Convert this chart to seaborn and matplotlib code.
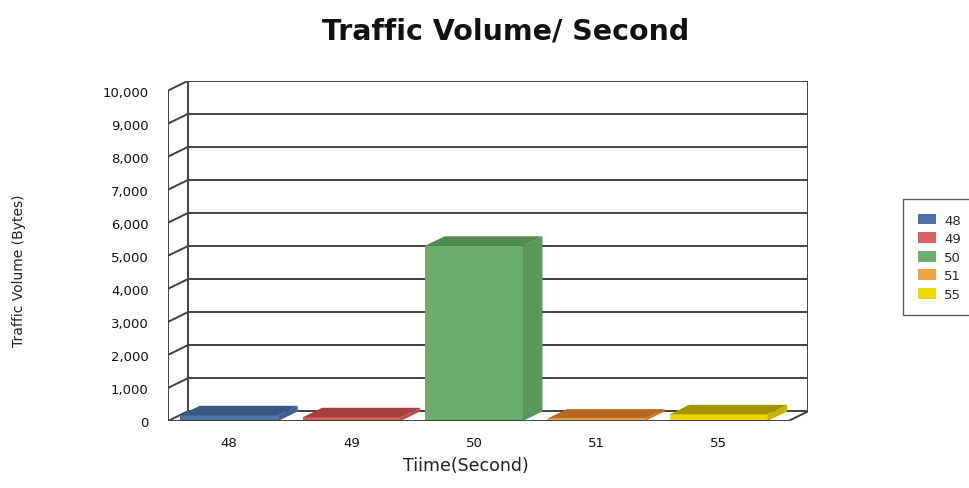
import matplotlib
matplotlib.use("Agg")
import matplotlib.pyplot as plt
import seaborn as sns
import pandas as pd
from matplotlib.patches import Polygon

# ---- data ----
categories = ["48", "49", "50", "51", "55"]
traffic_bytes = [170, 110, 5300, 70, 200]
ytick_values = [0, 1000, 2000, 3000, 4000, 5000, 6000, 7000, 8000, 9000, 10000]
ytick_labels = ["0", "1,000", "2,000", "3,000", "4,000", "5,000",
                "6,000", "7,000", "8,000", "9,000", "10,000"]

front_colors = ["#4f72a8", "#d9605e", "#6cae6c", "#f2a445", "#eed700"]
top_colors = ["#3a5683", "#a4403e", "#4f8a4f", "#b9691f", "#a59400"]
side_colors = ["#3f5f90", "#b84e4c", "#5b965b", "#c97a2c", "#c8b400"]

df = pd.DataFrame({"Time": categories, "Bytes": traffic_bytes})

sns.set_theme(style="white")
plt.rcParams["font.family"] = ["DejaVu Sans"]

W, H = 970, 489
fig = plt.figure(figsize=(W / 100, H / 100), dpi=100)
# axes frame = front plane of pseudo 3D box
ax = fig.add_axes([168 / W, (H - 422) / H, (808 - 168) / W, (422 - 82) / H])

palette = dict(zip(categories, front_colors))
sns.barplot(data=df, x="Time", y="Bytes", hue="Time", order=categories,
            hue_order=categories, palette=palette, width=0.8, saturation=1,
            legend=True, ax=ax, zorder=5, edgecolor="none")

dx, dy = 0.16, 290
x0, x1 = -0.5, 4.57
ax.set_xlim(x0, x1 + dx)
ax.set_ylim(0, 10000 + dy)
line_kw = dict(color="#404040", lw=1.4, zorder=2, solid_capstyle="butt")

# back wall gridlines and left wall connectors
for v in ytick_values:
    ax.plot([x0 + dx, x1 + dx], [v + dy, v + dy], **line_kw)
    ax.plot([x0, x0 + dx], [v, v + dy], **line_kw)
# walls / floor edges
ax.plot([x0, x0], [0, 10000], **line_kw)
ax.plot([x0 + dx, x0 + dx], [dy, 10000 + dy], **line_kw)
ax.plot([x1 + dx, x1 + dx], [dy, 10000 + dy], **line_kw)
ax.plot([x0, x1], [0, 0], color="#404040", lw=1.4, zorder=8)
ax.plot([x1, x1 + dx], [0, dy], color="#404040", lw=1.4, zorder=8)

# 3D faces derived from the seaborn bars
bars = [p for p in ax.patches if p.get_height() > 0]
bars.sort(key=lambda p: p.get_x())
for i, p in enumerate(bars):
    bx, bw, bh = p.get_x(), p.get_width(), p.get_height()
    top = Polygon([(bx, bh), (bx + dx, bh + dy), (bx + bw + dx, bh + dy), (bx + bw, bh)],
                  closed=True, facecolor=top_colors[i], edgecolor="none", zorder=6)
    side = Polygon([(bx + bw, 0), (bx + bw + dx, dy), (bx + bw + dx, bh + dy), (bx + bw, bh)],
                   closed=True, facecolor=side_colors[i], edgecolor="none", zorder=6)
    ax.add_patch(side)
    ax.add_patch(top)

ax.set_yticks(ytick_values)
ax.set_yticklabels(ytick_labels)
ax.tick_params(axis="y", length=0, pad=14, labelsize=9.5, labelcolor="#111111")
ax.tick_params(axis="x", length=0, pad=11, labelsize=9.5, labelcolor="#111111")
ax.set_xlabel("")
ax.set_ylabel("")
for s in ax.spines.values():
    s.set_visible(False)
ax.grid(False)

sns.move_legend(ax, loc="upper left", bbox_to_anchor=(903 / W, 1 - 200 / H),
                bbox_transform=fig.transFigure, title=None, frameon=True,
                fontsize=9.5, handlelength=1.4, handleheight=0.9,
                labelspacing=0.42, handletextpad=0.6, borderpad=1.1,
                borderaxespad=0, fancybox=False, edgecolor="#333333")

fig.text(506 / W, 1 - 31 / H, "Traffic Volume/ Second", ha="center", va="center",
         fontsize=20.5, fontweight="bold", color="#111111")
fig.text(19 / W, 1 - 271 / H, "Traffic Volume (Bytes)", ha="center", va="center",
         rotation=90, fontsize=10, color="#222222")
fig.text(466 / W, 1 - 466 / H, "Tiime(Second)", ha="center", va="center",
         fontsize=12.5, color="#222222")

fig.savefig("out.png", dpi=100, facecolor="white")
